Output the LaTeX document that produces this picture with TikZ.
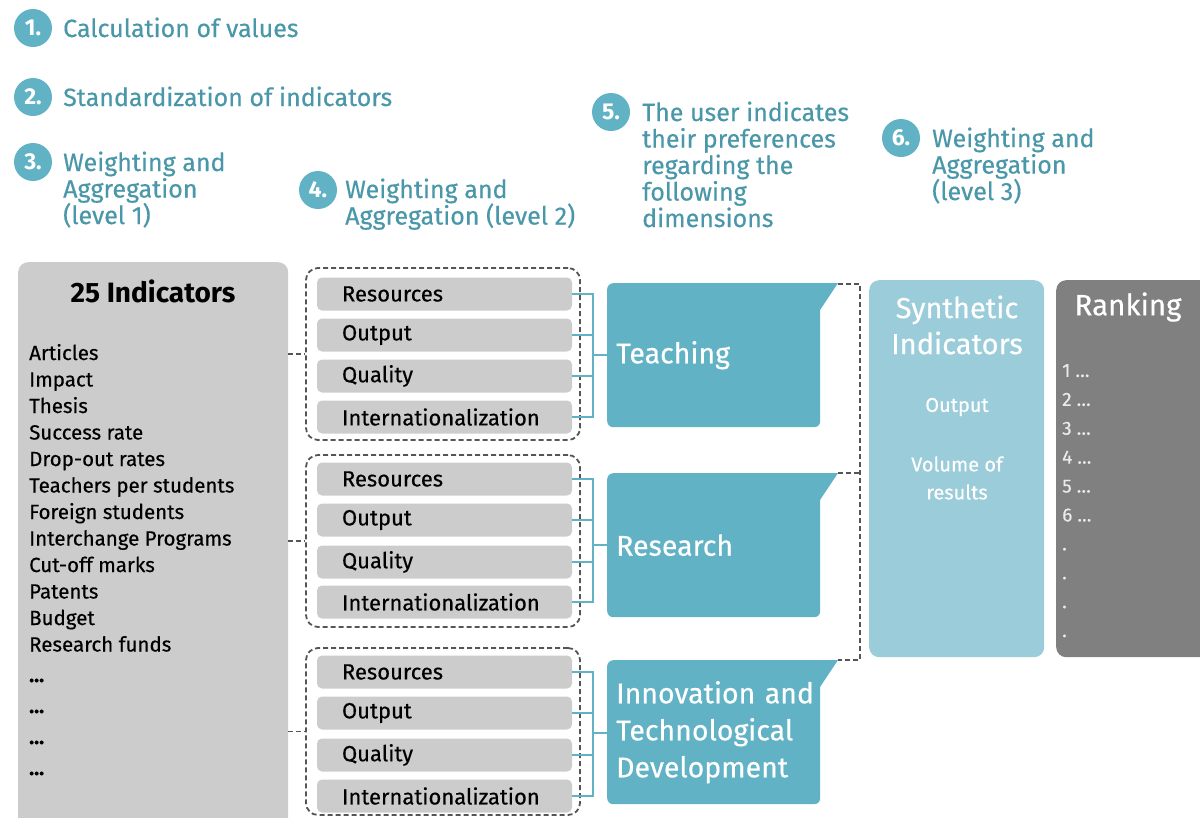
\documentclass[tikz,border=0pt]{standalone}
\usepackage{fontspec}
\setmainfont{Fira Sans}
\newfontfamily\medfont{Fira Sans}[FakeBold=0.4]
\definecolor{tealc}{HTML}{62B2C6}
\definecolor{headc}{HTML}{4A97A9}
\definecolor{lightteal}{HTML}{9BCCD9}
\definecolor{grayc}{HTML}{CCCCCC}
\definecolor{rankc}{HTML}{808080}
\definecolor{dashc}{HTML}{555555}
\begin{document}
\begin{tikzpicture}[x=1pt,y=-1pt,
  numc/.style={circle, fill=tealc, text=white, font=\fontsize{23}{23}\selectfont\bfseries, minimum size=38pt, inner sep=0pt},
  head/.style={anchor=base west, align=left, text=headc, font=\medfont\fontsize{25}{26.5}\selectfont, inner sep=0pt},
  subbox/.style={fill=grayc, rounded corners=5pt, minimum width=255pt, minimum height=33pt, text width=205pt, inner xsep=25pt, inner ysep=0pt, align=left, font=\medfont\fontsize{22}{24}\selectfont, text=black},
  grp/.style={draw=dashc, line width=1.8pt, rounded corners=12pt, dash pattern=on 5pt off 3pt, minimum width=274pt},
  dimbox/.style={fill=tealc, rounded corners=6pt, minimum width=213pt, minimum height=144pt, text width=195pt, inner xsep=9pt, align=left, text=white, font=\medfont\fontsize{28.5}{37}\selectfont, anchor=north west},
  brk/.style={draw=tealc, line width=2pt},
  dl/.style={draw=dashc, line width=1.8pt, dash pattern=on 5pt off 3pt},
  tab/.style={fill=tealc}
]
\useasboundingbox (0,0) rectangle (1200,817);
\clip (0,0) rectangle (1200,817);

% step headings (anchor = baseline of last line)
\node[numc] (n1) at (33,28) {1.};
\node[head] (h1) at (63,37) {Calculation of values};
\node[numc] (n2) at (33,97) {2.};
\node[head] (h2) at (63,106) {Standardization of indicators};
\node[numc] (n3) at (33,162) {3.};
\node[head] (h3) at (63,224) {Weighting and\\Aggregation\\(level 1)};
\node[numc] (n4) at (318,190) {4.};
\node[head] (h4) at (345,224.5) {Weighting and\\Aggregation (level 2)};
\node[numc] (n5) at (611,112) {5.};
\node[head] (h5) at (642,227) {The user indicates\\their preferences\\regarding the\\following\\dimensions};
\node[numc] (n6) at (901,138) {6.};
\node[head] (h6) at (932,200) {Weighting and\\Aggregation\\(level 3)};

% indicators box
\node[fill=grayc, rounded corners=10pt, minimum width=270pt, minimum height=570pt, anchor=north west, inner sep=0pt] (ind) at (18,262) {};
\node[font=\fontsize{28}{28}\selectfont\bfseries, text=black] (indt) at (153,291) {25 Indicators};
\node[anchor=base west, align=left, inner sep=0pt, font=\medfont\fontsize{20.5}{26.5}\selectfont, text=black] (indl) at (29,775)
 {Articles\\Impact\\Thesis\\Success rate\\Drop-out rates\\Teachers per students\\Foreign students\\Interchange Programs\\Cut-off marks\\Patents\\Budget\\Research funds\\[4pt]\textbf{…}\\[4.5pt]\textbf{…}\\[4.5pt]\textbf{…}\\[4.5pt]\textbf{…}};

% groups
\node[grp, minimum height=172pt] (g1) at (443,354) {};
\node[grp, minimum height=172pt] (g2) at (443,541) {};
\node[grp, minimum height=167pt] (g3) at (443,731.5) {};

\node[subbox] (a1) at (444.5,294) {Resources};
\node[subbox] (b1) at (444.5,335) {Output};
\node[subbox] (c1) at (444.5,376) {Quality};
\node[subbox] (d1) at (444.5,417) {Internationalization};
\node[subbox] (a2) at (444.5,479) {Resources};
\node[subbox] (b2) at (444.5,520) {Output};
\node[subbox] (c2) at (444.5,562) {Quality};
\node[subbox] (d2) at (444.5,602) {Internationalization};
\node[subbox] (a3) at (444.5,672) {Resources};
\node[subbox] (b3) at (444.5,713) {Output};
\node[subbox] (c3) at (444.5,755) {Quality};
\node[subbox] (d3) at (444.5,796) {Internationalization};

% dashed links from indicators to groups
\draw[dl] (ind.east |- g1.west) -- (g1.west);
\draw[dl] (ind.east |- g2.west) -- (g2.west);
\draw[dl] (ind.east |- g3.west) -- (g3.west);

% dimension boxes
\node[dimbox] (teach) at (607,283) {Teaching};
\node[dimbox] (res) at (607,473) {Research};
\node[dimbox] (inn) at (607,660) {\mbox{Innovation and}\\\mbox{Technological}\\\mbox{Development}};
\fill[tab] (812,283) -- (838,283) -- (820,310) -- (812,310) -- cycle;
\fill[tab] (812,473) -- (838,473) -- (820,500) -- (812,500) -- cycle;
\fill[tab] (812,660) -- (838,660) -- (820,687) -- (812,687) -- cycle;
\coordinate (tip1) at (838,284);
\coordinate (tip2) at (838,473);
\coordinate (tip3) at (838,660);

% brackets
\coordinate (j1) at (593,355);
\coordinate (j2) at (593,545);
\coordinate (j3) at (593,733);
\foreach \s in {a1,b1,c1,d1} \draw[brk] (\s.east) -| (j1);
\foreach \s in {a2,b2,c2,d2} \draw[brk] (\s.east) -| (j2);
\foreach \s in {a3,b3,c3,d3} \draw[brk] (\s.east) -| (j3);
\draw[brk] (j1) -- (teach.west |- j1);
\draw[brk] (j2) -- (res.west |- j2);
\draw[brk] (j3) -- (inn.west |- j3);

% dashed bus
\draw[dl] (tip1) -| (860,660) -- (tip3);
\draw[dl] (tip2) -- (860,473);

% synthetic indicators
\node[fill=lightteal, rounded corners=10pt, minimum width=175pt, minimum height=377pt, anchor=north west, inner sep=0pt] (syn) at (869,280) {};
\node[text=white, align=center, font=\medfont\fontsize{29}{36}\selectfont] (synt) at (957,325) {Synthetic\\Indicators};
\node[text=white, font=\medfont\fontsize{20}{20}\selectfont] (syno) at (957,407) {Output};
\node[text=white, align=center, font=\medfont\fontsize{20}{28}\selectfont] (synv) at (957,478) {Volume of\\results};

% ranking
\node[fill=rankc, rounded corners=10pt, minimum width=160pt, minimum height=377pt, anchor=north west, inner sep=0pt] (rank) at (1056,280) {};
\node[text=white, font=\medfont\fontsize{29.5}{29.5}\selectfont] (rankt) at (1128,307) {Ranking};
\node[anchor=base west, align=left, inner sep=0pt, text=white!92!black, font=\medfont\fontsize{19}{28.9}\selectfont] (rankl) at (1062,637)
 {1 …\\2 …\\3 …\\4 …\\5 …\\6 …\\.\\.\\.\\.};
\end{tikzpicture}
\end{document}
